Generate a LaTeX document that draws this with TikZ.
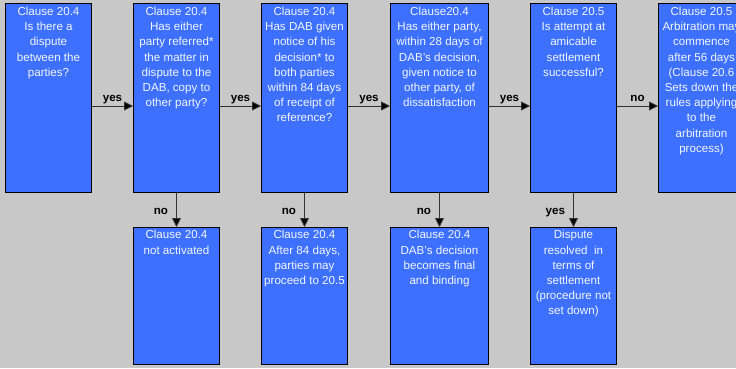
\documentclass[tikz,border=0pt]{standalone}
\usepackage{fontspec}
\setmainfont{Liberation Sans}
\usetikzlibrary{arrows.meta}
\definecolor{bgcol}{RGB}{200,200,200}
\definecolor{boxblue}{RGB}{61,112,255}
\definecolor{txtcol}{RGB}{242,246,255}
\definecolor{linecol}{RGB}{50,50,50}
\begin{document}
\begin{tikzpicture}[x=1pt,y=-1pt,
  box/.style={draw=black, line width=1pt, fill=boxblue, anchor=north west, inner sep=0pt, minimum width=86pt},
  topbox/.style={box, minimum height=189pt},
  botbox/.style={box, minimum height=137pt},
  txt/.style={anchor=north, inner sep=0pt, align=center, text=txtcol, font=\fontsize{11.6}{15.2}\selectfont},
  arr/.style={draw=linecol, line width=0.9pt, -{Triangle[length=9pt,width=9pt,fill=black]}},
  lbl/.style={inner sep=0pt, font=\bfseries\fontsize{11.6}{14}\selectfont}
]
\useasboundingbox (0,0) rectangle (736,368);
\clip (0,0) rectangle (736,368);
\fill[bgcol] (0,0) rectangle (736,368);

% top row boxes
\node[topbox] (b1) at (5,3) {};
\node[topbox] (b2) at (133,3) {};
\node[topbox] (b3) at (261,3) {};
\node[topbox, minimum width=98pt] (b4) at (390,3) {};
\node[topbox] (b5) at (530,3) {};
\node[topbox] (b6) at (658,3) {};

% bottom row boxes
\node[botbox] (c2) at (133,227) {};
\node[botbox] (c3) at (261,227) {};
\node[botbox, minimum width=98pt] (c4) at (390,227) {};
\node[botbox] (c5) at (530,227) {};

% texts
\node[txt] (t1) at ([yshift=-3.8pt]b1.north) {Clause 20.4\\Is there a\\dispute\\between the\\parties?};
\node[txt] (t2) at ([yshift=-3.8pt]b2.north) {Clause 20.4\\Has either\\party referred*\\the matter in\\dispute to the\\DAB, copy to\\other party?};
\node[txt] (t3) at ([yshift=-3.8pt]b3.north) {Clause 20.4\\Has DAB given\\notice of his\\decision* to\\both parties\\within 84 days\\of receipt of\\reference?};
\node[txt] (t4) at ([yshift=-3.8pt]b4.north) {Clause20.4\\Has either party,\\within 28 days of\\DAB's decision,\\given notice to\\other party, of\\dissatisfaction};
\node[txt] (t5) at ([yshift=-3.8pt]b5.north) {Clause 20.5\\Is attempt at\\amicable\\settlement\\successful?};
\node[txt] (t6) at ([yshift=-3.8pt]b6.north) {Clause 20.5\\Arbitration may\\commence\\after 56 days\\(Clause 20.6\\Sets down the\\rules applying\\to the\\arbitration\\process)};

\node[txt] (u2) at ([yshift=-3.2pt]c2.north) {Clause 20.4\\not activated};
\node[txt] (u3) at ([yshift=-3.2pt]c3.north) {Clause 20.4\\After 84 days,\\parties may\\proceed to 20.5};
\node[txt] (u4) at ([yshift=-3.2pt]c4.north) {Clause 20.4\\DAB's decision\\becomes final\\and binding};
\node[txt] (u5) at ([yshift=-3.2pt]c5.north) {Dispute\\resolved\ \ in\\terms of\\settlement\\(procedure not\\set down)};

% horizontal arrows
\draw[arr] ([yshift=-8pt]b1.east) -- node[lbl, midway, anchor=base, yshift=4.5pt] (l1) {yes} ([yshift=-8pt]b2.west);
\draw[arr] ([yshift=-8pt]b2.east) -- node[lbl, midway, anchor=base, yshift=4.5pt] (l2) {yes} ([yshift=-8pt]b3.west);
\draw[arr] ([yshift=-8pt]b3.east) -- node[lbl, midway, anchor=base, yshift=4.5pt] (l3) {yes} ([yshift=-8pt]b4.west);
\draw[arr] ([yshift=-8pt]b4.east) -- node[lbl, midway, anchor=base, yshift=4.5pt] (l4) {yes} ([yshift=-8pt]b5.west);
\draw[arr] ([yshift=-8pt]b5.east) -- node[lbl, midway, anchor=base, yshift=4.5pt] (l5) {no} ([yshift=-8pt]b6.west);

% vertical arrows
\draw[arr] (b2.south) -- node[lbl, midway, anchor=base east, xshift=-8pt, yshift=-4.5pt] (m2) {no} (c2.north);
\draw[arr] (b3.south) -- node[lbl, midway, anchor=base east, xshift=-8pt, yshift=-4.5pt] (m3) {no} (c3.north);
\draw[arr] (b4.south) -- node[lbl, midway, anchor=base east, xshift=-8pt, yshift=-4.5pt] (m4) {no} (c4.north);
\draw[arr] (b5.south) -- node[lbl, midway, anchor=base east, xshift=-8pt, yshift=-4.5pt] (m5) {yes} (c5.north);
\end{tikzpicture}
\end{document}
